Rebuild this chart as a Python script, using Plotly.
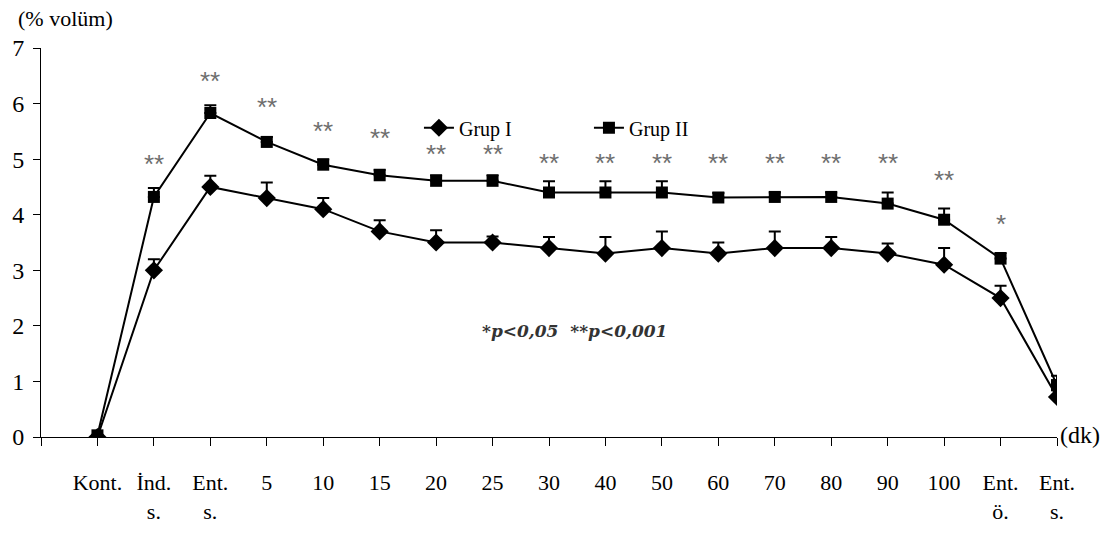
import plotly.graph_objects as go

categories = ["Kont.", "İnd.<br>s.", "Ent.<br>s.", "5", "10", "15", "20", "25", "30", "40",
              "50", "60", "70", "80", "90", "100", "Ent.<br>ö.", "Ent.<br>s."]
grup1 = [0.0, 3.0, 4.5, 4.3, 4.1, 3.7, 3.5, 3.5, 3.4, 3.3, 3.4, 3.3, 3.4, 3.4, 3.3, 3.1, 2.5, 0.72]
grup1_err = [0.0, 0.2, 0.2, 0.28, 0.2, 0.2, 0.22, 0.11, 0.2, 0.3, 0.3, 0.2, 0.3, 0.2, 0.18, 0.3, 0.22, 0.3]
grup2 = [0.03, 4.32, 5.83, 5.31, 4.9, 4.71, 4.61, 4.61, 4.4, 4.4, 4.4, 4.31, 4.32, 4.32, 4.2, 3.91, 3.21, 0.93]
grup2_err = [0.0, 0.16, 0.14, 0.09, 0.1, 0.1, 0.1, 0.1, 0.2, 0.2, 0.2, 0.08, 0.08, 0.08, 0.2, 0.2, 0.1, 0.17]
stars = ["", "**", "**", "**", "**", "**", "**", "**", "**", "**", "**", "**", "**", "**", "**", "**", "*", ""]
star_y = [None, 5.04, 6.53, 6.07, 5.64, 5.51, 5.22, 5.22, 5.06, 5.06, 5.06, 5.06, 5.06, 5.06, 5.06, 4.75, 3.96, None]

x = list(range(len(categories)))
SERIF = "Liberation Serif, Times New Roman, serif"

fig = go.Figure()
fig.add_trace(go.Scatter(
    x=x, y=grup1, name="Grup I", mode="lines+markers",
    line=dict(color="black", width=2),
    marker=dict(symbol="diamond", size=14, color="black"),
    error_y=dict(type="data", symmetric=False, array=grup1_err, arrayminus=[0] * len(x),
                 color="black", thickness=2, width=6),
))
fig.add_trace(go.Scatter(
    x=x, y=grup2, name="Grup II", mode="lines+markers",
    line=dict(color="black", width=2),
    marker=dict(symbol="square", size=12, color="black"),
    error_y=dict(type="data", symmetric=False, array=grup2_err, arrayminus=[0] * len(x),
                 color="black", thickness=2, width=6),
))

for xi, s, sy in zip(x, stars, star_y):
    if s:
        fig.add_annotation(x=xi, y=sy, text=s, showarrow=False,
                           font=dict(family="Liberation Sans, Arial, sans-serif", size=26, color="#6e6e6e"),
                           xanchor="center", yanchor="middle", yshift=-7)

fig.add_annotation(x=8.46, y=1.9, text="<i><b>*p&lt;0,05  **p&lt;0,001</b></i>", showarrow=False,
                   font=dict(family="DejaVu Serif, serif", size=17, color="#333333"),
                   xanchor="center", yanchor="middle")
fig.add_annotation(xref="paper", yref="paper", x=-0.0246, y=1.075, text="(% volüm)", showarrow=False,
                   font=dict(family=SERIF, size=22, color="black"), xanchor="left", yanchor="middle")
fig.add_annotation(xref="paper", yref="y", x=1.0, y=0, xshift=1, yshift=2, text="(dk)", showarrow=False,
                   font=dict(family=SERIF, size=24, color="black"), xanchor="left", yanchor="middle")

fig.update_layout(
    width=1116, height=536,
    margin=dict(l=40, r=59, t=48, b=87),
    plot_bgcolor="white", paper_bgcolor="white",
    font=dict(family=SERIF, color="black"),
    showlegend=True,
    legend=dict(orientation="h", x=0.372, y=0.795, xanchor="left", yanchor="middle",
                font=dict(family=SERIF, size=20, color="black"),
                entrywidth=125, entrywidthmode="pixels", bgcolor="rgba(0,0,0,0)"),
    xaxis=dict(range=[-1, 17], tickmode="array", tickvals=list(range(-1, 18)),
               ticktext=[""] + categories, showgrid=False, zeroline=False,
               showline=True, linecolor="black", linewidth=1,
               ticks="outside", ticklen=8, tickcolor="black",
               tickfont=dict(family=SERIF, size=22, color="black"), ticklabelstandoff=18),
    yaxis=dict(range=[0, 7], tickvals=list(range(0, 8)), showgrid=False, zeroline=False,
               showline=True, linecolor="black", linewidth=1,
               ticks="outside", ticklen=7, tickcolor="black",
               tickfont=dict(family=SERIF, size=24, color="black"), ticklabelstandoff=4),
)

fig.write_html("out.html")
